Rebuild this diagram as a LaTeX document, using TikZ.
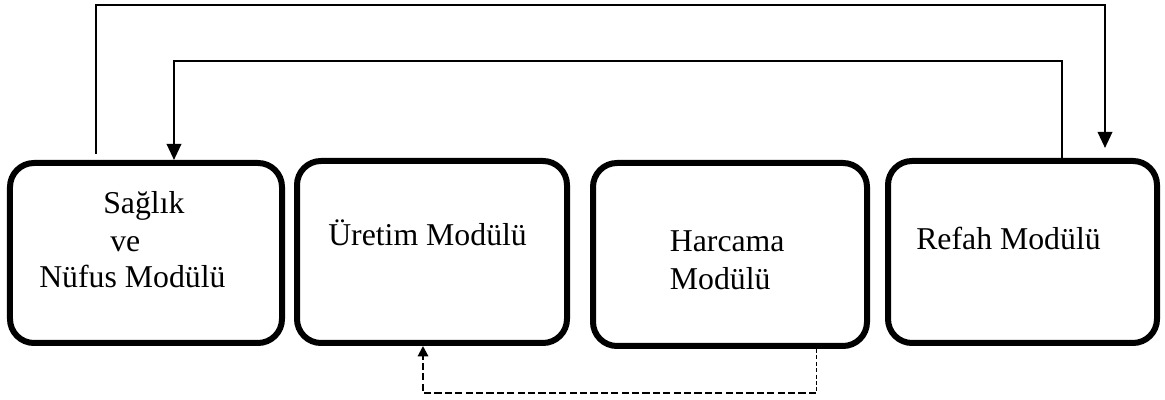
\documentclass[tikz,border=0pt]{standalone}
\usepackage{fontspec}
\setmainfont{Liberation Serif}
\usetikzlibrary{arrows.meta}
\tikzset{
  modul/.style={draw, line width=0.15cm, rounded corners=0.6cm, inner sep=0pt},
  yazi/.style={anchor=base west, inner sep=0pt, font=\fontsize{22.6}{27}\selectfont},
  ok/.style={line width=0.055cm, -{Triangle[width=0.36cm,length=0.4cm]}},
}
\begin{document}
\begin{tikzpicture}
\useasboundingbox (0,0) rectangle (29.125,10);
% modules
\node[modul, minimum width=6.8cm, minimum height=4.5cm] (saglik) at (3.65,3.675) {};
\node[modul, minimum width=6.75cm, minimum height=4.55cm] (uretim) at (10.8,3.7) {};
\node[modul, minimum width=6.85cm, minimum height=4.575cm] (harcama) at (18.25,3.6375) {};
\node[modul, minimum width=6.725cm, minimum height=4.55cm] (refah) at (25.5625,3.7) {};

\node[yazi] (saglikA) at (2.575,4.65) {Sağlık};
\node[yazi] (saglikB) at (2.75,3.72) {ve};
\node[yazi] (saglikC) at (0.975,2.8) {Nüfus Modülü};
\node[yazi] (uretimA) at (8.2,3.85) {Üretim Modülü};
\node[yazi] (harcamaA) at (16.74,3.72) {Harcama};
\node[yazi] (harcamaB) at (16.74,2.77) {Modülü};
\node[yazi] (refahA) at (22.9,3.76) {Refah Modülü};

% feedback lines
\coordinate (dis1) at (2.4,9.875);
\coordinate (dis2) at (27.625,9.875);
\draw[ok] ([yshift=0.15cm]saglik.north -| dis1) -- (dis1) -- (dis2) -- ([yshift=0.25cm]refah.north -| dis2);

\coordinate (ic1) at (26.55,8.483);
\coordinate (ic2) at (4.35,8.483);
\draw[ok] (refah.north -| ic1) -- (ic1) -- (ic2) -- (saglik.north -| ic2);

% dashed link
\coordinate (alt1) at (20.4,0.175);
\coordinate (alt2) at (10.575,0.175);
\draw[line width=0.025cm, dash pattern=on 0.1cm off 0.06cm] (harcama.south -| alt1) -- (alt1);
\draw[line width=0.05cm, dash pattern=on 0.18cm off 0.08cm, -{Triangle[width=0.26cm,length=0.26cm]}] (alt1) -- (alt2) -- (uretim.south -| alt2);
\end{tikzpicture}
\end{document}
